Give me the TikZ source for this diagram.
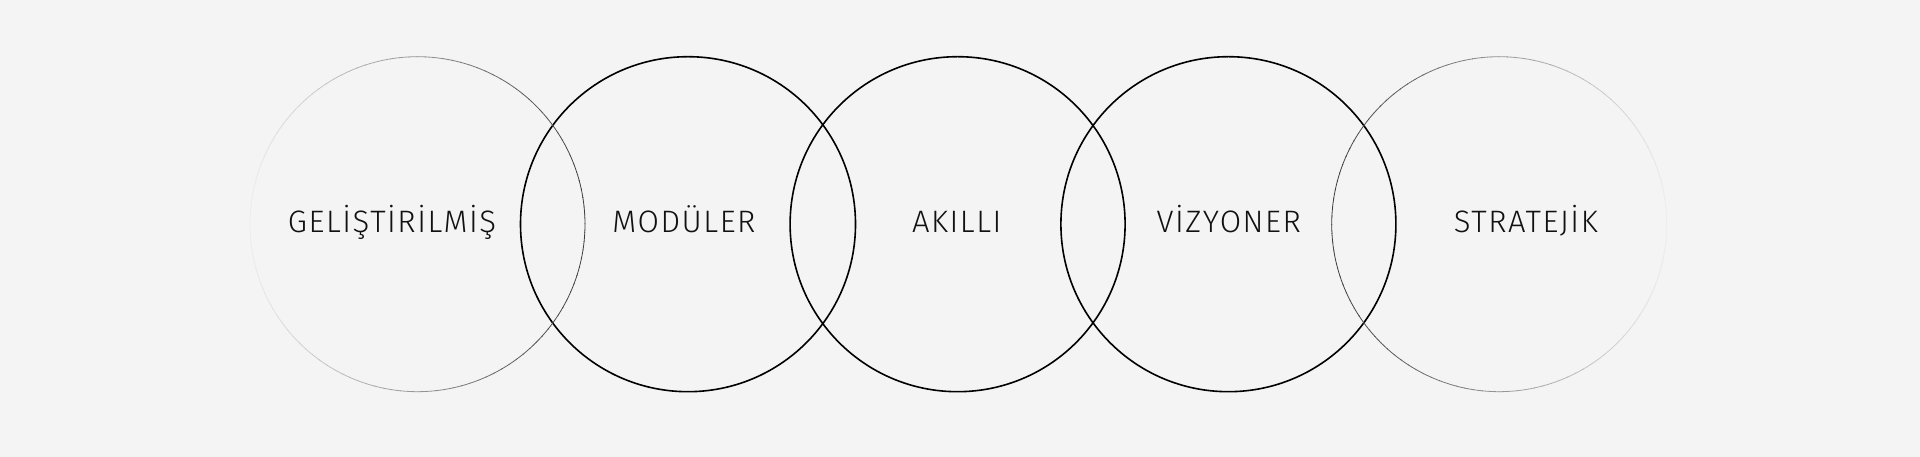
\documentclass[tikz,border=0pt]{standalone}
\usepackage{fontspec}
\setmainfont{Fira Sans Light}[LetterSpace=5]
\usepackage{tikz}
\usetikzlibrary{calc}
\definecolor{bgcol}{HTML}{F4F4F4}
\definecolor{ink}{HTML}{111111}
\tikzstyle{ring}=[draw=black,line width=1.6pt]
\tikzstyle{fadering}=[line width=0.8pt]
\tikzstyle{word}=[anchor=base,inner sep=0pt,text=ink,font=\fontsize{31}{36}\selectfont]

\begin{document}
\begin{tikzpicture}[x=1pt,y=1pt]
\fill[bgcol] (0,0) rectangle (1920,457);
\coordinate (c1) at (417.5,232.8);
\coordinate (c2) at (688,232.8);
\coordinate (c3) at (957.6,232.8);
\coordinate (c4) at (1228.4,232.8);
\coordinate (c5) at (1499.2,232.8);
%Drawing rings
\draw[ring] (c2) circle[radius=167.5];
\draw[ring] (c3) circle[radius=167.5];
\draw[ring] (c4) circle[radius=167.5];
\foreach \a in {0,3,...,357}{
  \pgfmathsetmacro{\pl}{3+72*(1+cos(\a+1.5))/2}
  \pgfmathsetmacro{\pr}{3+72*(1-cos(\a+1.5))/2}
  \draw[fadering,color=black!\pl!bgcol] ($(c1)+(\a:167.5)$) arc[start angle=\a,end angle=\a+3.3,radius=167.5];
  \draw[fadering,color=black!\pr!bgcol] ($(c5)+(\a:167.5)$) arc[start angle=\a,end angle=\a+3.3,radius=167.5];
}
%Labels
\node[word] (w1) at (392,224.3) {GELİŞTİRİLMİŞ};
\node[word] (w2) at (684,224.3) {MODÜLER};
\node[word] (w3) at (956.7,224.3) {AKILLI};
\node[word] (w4) at (1228.7,224.3) {VİZYONER};
\node[word] (w5) at (1525.8,224.3) {STRATEJİK};
\end{tikzpicture}
\end{document}
